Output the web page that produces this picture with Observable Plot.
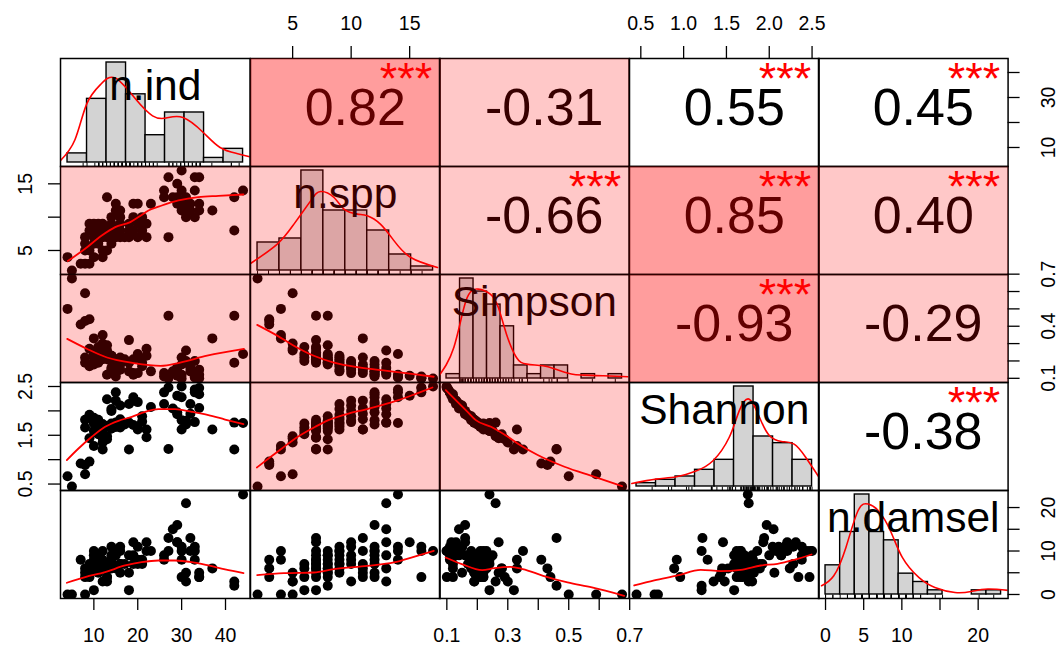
<!DOCTYPE html>
<html><head><meta charset="utf-8">
<script src="https://cdn.jsdelivr.net/npm/d3@7"></script>
<script src="https://cdn.jsdelivr.net/npm/@observablehq/plot@0.6"></script>
<style>
body{margin:0;background:#fff;}
#chart{position:relative;width:1059px;height:648px;overflow:hidden;background:#fff;font-family:"Liberation Sans",Arial,Helvetica,sans-serif;}
#chart svg{position:absolute;overflow:visible;background:transparent;}
</style></head><body><div id="chart"></div>
<script>
// ---------- data (one value per site) ----------
const variables = ["n.ind", "n.spp", "Simpson", "Shannon", "n.damsel"];
const nInd = [5,7,8,9,4,10,12,8,9,12, 13,8,10,11,14,8,10,11,12,18, 14,13,16,17,15,20,22,27,42,9,
  10,11,12,13,14,15,16,18,19,21, 9,10,11,12,14,16,18,20,22,14, 16,19,21,31,33,15,16,30,32,34,
  37,15,19,20,23,29,30,31,32,34, 13,26,28,29,31,42,26,30,33,44, 29,27,33,34,30];
const nSpp = [2,3,3,3,4,4,4,5,5,5, 5,6,6,6,6,7,7,7,7,7, 7,7,7,7,7,7,7,7,8,8,
  8,8,8,8,8,8,8,8,8,8, 9,9,9,9,9,9,9,9,9,10, 10,10,10,10,10,11,11,11,11,11,
  11,12,12,12,12,12,12,12,12,12, 13,13,13,13,13,13,14,14,14,14, 15,16,16,16,17];
const simpson = [0.675,0.41,0.43,0.44,0.50,0.33,0.35,0.59,0.27,0.30, 0.26,0.22,0.24,0.28,0.20,0.19,0.22,0.25,0.28,0.32,
  0.23,0.21,0.22,0.21,0.20,0.24,0.27,0.46,0.46,0.18, 0.19,0.22,0.24,0.29,0.23,0.21,0.20,0.19,0.21,0.19,
  0.17,0.18,0.19,0.21,0.15,0.20,0.14,0.22,0.23,0.16, 0.15,0.13,0.17,0.19,0.20,0.13,0.18,0.22,0.16,0.15,
  0.33,0.11,0.12,0.13,0.14,0.16,0.18,0.20,0.14,0.12, 0.12,0.13,0.14,0.16,0.26,0.19,0.11,0.12,0.105,0.24,
  0.115,0.10,0.11,0.10,0.099];
const shannon = [0.45,0.92,0.89,0.96,0.66,1.28,1.21,0.70,1.44,1.35, 1.48,1.66,1.59,1.52,1.74,1.82,1.74,1.59,1.45,1.21,
  1.64,1.69,1.66,1.72,1.76,1.62,1.46,1.22,1.21,1.89, 1.80,1.69,1.59,1.42,1.64,1.67,1.74,1.76,1.71,1.78,
  1.92,1.86,1.82,1.73,2.04,1.76,2.14,1.68,1.62,2.00, 2.11,2.21,1.89,1.80,1.77,2.21,1.83,1.62,1.94,2.06,
  1.62,2.38,2.28,2.18,2.08,1.97,1.81,1.72,2.14,2.34, 2.24,2.14,2.05,1.93,1.76,1.76,2.38,2.28,2.44,1.75,
  2.31,2.48,2.38,2.47,2.50];
const nDamsel = [0,8,6,4,0,8,10,0,5,3, 3,4,1,6,7,5,7,9,6,1, 8,4,10,7,6,8,12,13,2,6,
  9,5,7,4,6,10,7,5,9,8, 7,10,6,8,11,5,9,7,10,9, 11,12,7,3,8,10,7,4,13,5,
  6,9,7,11,10,16,8,5,10,4, 6,9,15,12,21,3,8,11,10,23, 12,10,11,4,10];

// ---------- histograms (diagonal) ----------
const nIndBreaks = [0,5,10,15,20,25,30,35,40,45];
const nIndCounts = [2,14,22,15,6,11,11,1,3];
const nSppBreaks = [2,4,6,8,10,12,14,16,18];
const nSppCounts = [7,8,25,15,15,10,4,1];
const simpsonBreaks = [0.05,0.10,0.15,0.20,0.25,0.30,0.35,0.40,0.45,0.50,0.55,0.60,0.65,0.70];
const simpsonCounts = [1,23,20,17,12,3,1,3,3,0,1,0,1];
const shannonBreaks = [0.25,0.5,0.75,1.0,1.25,1.5,1.75,2.0,2.25,2.5];
const shannonCounts = [1,2,3,5,8,30,15,13,8];
const nDamselBreaks = [0,2,4,6,8,10,12,14,16,18,20,22,24];
const nDamselCounts = [7,15,24,15,13,5,3,1,0,0,1,1];

// density curves (x, height in count units)
const nIndDensity = [[-1.85,0.37],[1.9,5.0],[4.9,12.85],[8.5,17.2],[12.27,18.57],[17.45,13.95],[21.8,10.27],[25.25,9.77],[29.6,9.9],[34.8,6.6],[39.1,3.3],[43.4,1.98],[46.7,1.25]];
const nSppDensity = [[1.36,1.75],[3.8,6.6],[5.32,11.6],[6.84,17.4],[7.75,19.75],[8.97,18.25],[9.88,15.35],[11.1,14.1],[12.0,13.7],[13.2,11.6],[14.45,7.4],[15.97,3.25],[18.4,0.75]];
const simpsonDensity = [[0.017,0.23],[0.077,7.13],[0.122,17.9],[0.167,20.56],[0.212,19.41],[0.242,16.33],[0.272,10.2],[0.309,4.83],[0.347,3.31],[0.407,2.92],[0.452,2.16],[0.512,1.01],[0.557,0.78],[0.631,0.62],[0.722,0.39]];
const shannonDensity = [[0.19,0.9],[0.502,2.22],[0.76,2.91],[1.02,4.71],[1.23,7.71],[1.437,14.7],[1.566,22.7],[1.696,26.2],[1.827,20.7],[1.955,15.2],[2.11,13.5],[2.27,12.7],[2.42,8.7],[2.605,2.22]];
const nDamselDensity = [[-0.54,2.09],[1.13,4.49],[2.79,11.3],[4.44,20.1],[5.83,21.7],[7.22,20.1],[8.87,15.3],[10.5,8.9],[12.75,4.1],[14.95,1.68],[17.7,0.48],[19.9,0.72],[22.2,1.3],[25.5,0.89]];

// smoothers (lower panels): [x, y]
const smoothSppInd = [[4.06,3.41],[8.0,5.26],[11.8,7.25],[14.86,8.51],[18.3,9.26],[20.17,10.01],[22.45,11.0],[25.5,11.75],[29.3,12.5],[33.8,13.01],[38.4,13.2],[44.1,13.4]];
const smoothSimInd = [[3.93,0.327],[8.48,0.269],[13.0,0.220],[19.1,0.188],[25.2,0.172],[29.7,0.191],[35.8,0.230],[44.2,0.269]];
const smoothSimSpp = [[1.97,0.408],[3.68,0.346],[5.1,0.288],[6.81,0.230],[8.52,0.191],[10.8,0.162],[13.08,0.143],[15.35,0.124],[17.06,0.109]];
const smoothShaInd = [[3.84,0.991],[6.5,1.229],[9.54,1.469],[12.58,1.674],[15.6,1.797],[18.65,1.879],[21.7,1.981],[24.7,2.037],[28.5,2.037],[32.3,1.981],[36.1,1.914],[39.9,1.823],[44.1,1.729]];
const smoothShaSpp = [[1.94,0.839],[2.94,1.024],[4.08,1.229],[5.22,1.434],[6.93,1.674],[8.06,1.811],[9.77,1.946],[11.2,2.028],[12.62,2.119],[14.04,2.221],[15.47,2.344],[16.95,2.479]];
const smoothShaSim = [[0.0965,2.426],[0.135,2.186],[0.168,1.981],[0.195,1.811],[0.245,1.674],[0.30,1.469],[0.332,1.331],[0.398,1.094],[0.486,0.854],[0.585,0.649],[0.675,0.458]];
const smoothDamInd = [[3.84,2.69],[8.03,4.0],[12.58,5.15],[17.14,6.67],[20.9,7.45],[24.7,7.82],[28.5,7.82],[32.3,7.45],[36.1,6.67],[39.9,5.75],[44.1,4.92]];
const smoothDamSpp = [[1.97,4.46],[4.25,4.92],[6.81,5.06],[8.52,5.84],[11.37,6.6],[13.65,7.36],[15.35,8.67],[17.06,10.05]];
const smoothDamSim = [[0.096,8.51],[0.149,7.0],[0.216,5.61],[0.256,6.07],[0.309,6.37],[0.349,5.84],[0.416,4.3],[0.496,2.76],[0.576,1.61],[0.682,-0.3]];
const smoothDamSha = [[0.423,2.07],[0.657,3.22],[0.929,4.37],[1.201,5.68],[1.435,5.38],[1.668,5.68],[1.902,6.67],[2.097,7.06],[2.292,7.98],[2.494,9.2]];

// correlations (upper panels, row by row)
const corrLabels = ["0.82","-0.31","0.55","0.45","-0.66","0.85","0.40","-0.93","-0.29","-0.38"];
const corrStars  = ["***","","***","***","***","***","***","***","","***"];
// highlight shading level of each cell
const highlight = [[0,2,1,0,0],[1,1,1,2,1],[1,1,1,2,1],[0,1,1,0,0],[0,0,0,0,0]];

// axis ticks and labels
const nIndTicks = [10,20,30,40];
const nSppTicks = [5,10,15];
const simpsonTicks = [0.1,0.2,0.3,0.4,0.5,0.6,0.7];
const shannonTicks = [0.5,1.0,1.5,2.0,2.5];
const nDamselTicks = [0,5,10,15,20];
const topAxes = {1: [nSppTicks, ["5","10","15"]], 3: [shannonTicks, ["0.5","1.0","1.5","2.0","2.5"]]};
const leftAxes = {1: [nSppTicks, ["5","15"]], 3: [shannonTicks, ["0.5","1.5","2.5"]]};
const rightAxes = {0: [nIndTicks, ["10","30"]], 2: [simpsonTicks, ["0.1","0.4","0.7"]], 4: [nDamselTicks, ["0","10","20"]]};
const bottomAxes = {0: [nIndTicks, ["10","20","30","40"]], 2: [simpsonTicks, ["0.1","0.3","0.5","0.7"]], 4: [nDamselTicks, ["0","5","10","20"]]};

// ---------- build ----------
const cols = [nInd, nSpp, simpson, shannon, nDamsel];
const breaks = [nIndBreaks, nSppBreaks, simpsonBreaks, shannonBreaks, nDamselBreaks];
const counts = [nIndCounts, nSppCounts, simpsonCounts, shannonCounts, nDamselCounts];
const dens = [nIndDensity, nSppDensity, simpsonDensity, shannonDensity, nDamselDensity];
const smooths = {"1,0": smoothSppInd, "2,0": smoothSimInd, "2,1": smoothSimSpp, "3,0": smoothShaInd, "3,1": smoothShaSpp,
  "3,2": smoothShaSim, "4,0": smoothDamInd, "4,1": smoothDamSpp, "4,2": smoothDamSim, "4,3": smoothDamSha};

const LEFT = 60, TOP = 57.7, W = 189.6, H = 108, TICK = 12;
const FONT = "'Liberation Sans', Arial, Helvetica, sans-serif";
const chart = document.getElementById("chart");
const expand = ([a, b]) => [a - 0.04 * (b - a), b + 0.04 * (b - a)];
const domains = cols.map(c => expand(d3.extent(c)));
const idx = d3.range(nInd.length);

function place(svg, x, y) {
  svg.style.position = "absolute";
  svg.style.left = x + "px";
  svg.style.top = y + "px";
  chart.appendChild(svg);
}
function mkPlot(xd, yd, marks) {
  return Plot.plot({width: W, height: H, margin: 0,
    x: {domain: xd, axis: null}, y: {domain: yd, axis: null},
    style: {fontFamily: FONT, overflow: "visible", background: "transparent"}, marks});
}

let u = 0;
for (let i = 0; i < 5; i++) {
  for (let j = 0; j < 5; j++) {
    const marks = [];
    let xd = domains[j], yd = domains[i];
    let star = "";
    if (i === j) {
      const br = breaks[i], ct = counts[i];
      const bins = ct.map((c, b) => ({x1: br[b], x2: br[b + 1], c}));
      const M = d3.max(ct);
      xd = expand(d3.extent(br)); yd = [-0.04 * M, 1.04 * M];
      marks.push(Plot.rect(bins, {x1: "x1", x2: "x2", y1: () => 0, y2: "c", fill: "#d3d3d3", stroke: "black", strokeWidth: 1.4}));
      marks.push(Plot.ruleX(cols[i], {x: d => d, insetTop: H - 3.3, stroke: "black", strokeWidth: 1}));
      marks.push(Plot.line(dens[i], {x: d => d[0], y: d => d[1], stroke: "red", strokeWidth: 1.6, curve: "natural", clip: true}));
      marks.push(Plot.text([variables[i]], {frameAnchor: "top", dy: 42, lineAnchor: "bottom", fontSize: 42.5, fill: "black"}));
    } else if (i > j) {
      const pts = idx.map(r => [cols[j][r], cols[i][r]]);
      marks.push(Plot.dot(pts, {x: d => d[0], y: d => d[1], r: 5, fill: "black", stroke: "none", clip: true}));
      marks.push(Plot.line(smooths[i + "," + j], {x: d => d[0], y: d => d[1], stroke: "red", strokeWidth: 1.8, curve: "monotone-x", clip: true}));
    } else {
      marks.push(Plot.text([corrLabels[u]], {frameAnchor: "top", dx: 10, dy: 67, lineAnchor: "bottom", fontSize: 52, fill: "black"}));
      star = corrStars[u];
      u++;
    }
    marks.push(Plot.frame({stroke: "black", strokeWidth: 1.5}));
    const lvl = highlight[i][j];
    if (lvl > 0) marks.push(Plot.frame({fill: "#ff0000", fillOpacity: lvl === 2 ? 0.385 : 0.216, stroke: "none"}));
    if (star) marks.push(Plot.text([star], {frameAnchor: "top-left", dx: 0.82 * W, dy: 36, lineAnchor: "bottom", textAnchor: "middle", fontSize: 45, fill: "red"}));
    place(mkPlot(xd, yd, marks), LEFT + j * W, TOP + i * H);
  }
}

function axisPlot(side, k, ticks, labels, px, py) {
  const horiz = side === "top" || side === "bottom";
  const marks = [];
  if (horiz) {
    marks.push(Plot.ruleX(ticks, {x: d => d, insetTop: side === "top" ? -TICK : H, insetBottom: side === "top" ? H : -TICK, stroke: "black", strokeWidth: 1.3}));
    marks.push(Plot.text(labels, {x: d => +d, text: d => d, frameAnchor: side, dy: side === "top" ? -29 : 30,
      lineAnchor: side === "top" ? "bottom" : "top", textAnchor: "middle", fontSize: 19.5, fill: "black"}));
  } else {
    marks.push(Plot.ruleY(ticks, {y: d => d, insetLeft: side === "left" ? -TICK : W, insetRight: side === "left" ? W : -TICK, stroke: "black", strokeWidth: 1.3}));
    marks.push(Plot.text(labels, {y: d => +d, text: d => d, frameAnchor: side, dx: side === "left" ? -29 : 33, rotate: -90,
      lineAnchor: side === "left" ? "bottom" : "top", textAnchor: "middle", fontSize: 19.5, fill: "black"}));
  }
  const svg = mkPlot(horiz ? domains[k] : [0, 1], horiz ? [0, 1] : domains[k], marks);
  place(svg, px, py);
}
for (const j in topAxes) axisPlot("top", +j, topAxes[j][0], topAxes[j][1], LEFT + j * W, TOP);
for (const j in bottomAxes) axisPlot("bottom", +j, bottomAxes[j][0], bottomAxes[j][1], LEFT + j * W, TOP + 4 * H);
for (const i in leftAxes) axisPlot("left", +i, leftAxes[i][0], leftAxes[i][1], LEFT, TOP + i * H);
for (const i in rightAxes) axisPlot("right", +i, rightAxes[i][0], rightAxes[i][1], LEFT + 4 * W, TOP + i * H);
</script></body></html>
